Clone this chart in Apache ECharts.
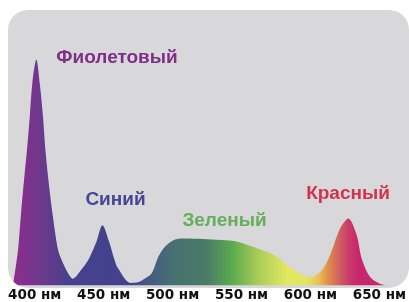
<!DOCTYPE html>
<html>
<head>
<meta charset="utf-8">
<script src="https://cdn.jsdelivr.net/npm/echarts@6/dist/echarts.min.js"></script>
<style>
html,body{margin:0;padding:0;background:#fff;}
#c{width:409px;height:302px;}
</style>
</head>
<body>
<div id="c"></div>
<script>
// Wavelength (nm) and relative intensity (violet peak = 100)
const wavelengths = [384.2, 386.4, 388.0, 389.9, 392.1, 394.4, 396.4, 398.3, 401.2, 403.6, 406.0, 407.7, 410.1, 413.1, 416.7, 419.0, 424.1, 427.5, 434.7, 439.5, 444.8, 449.1, 453.9, 457.5, 460.3, 469.5, 475.4, 480.5, 485.0, 489.8, 494.6, 501.8, 509.0, 522.1, 535.1, 547.3, 554.5, 561.7, 573.6, 588.0, 599.9, 608.3, 614.3, 621.5, 627.5, 633.5, 637.1, 643.0, 649.3, 655.0];
const intensity = [0, 9.0, 16.4, 30.9, 45.8, 60.3, 74.8, 89.7, 100, 89.7, 74.8, 60.3, 45.8, 30.9, 16.4, 12.1, 5.5, 3.0, 7.7, 12.1, 19.5, 26.7, 19.5, 12.1, 7.7, 1.1, 1.5, 3.3, 5.5, 12.9, 17.3, 20.4, 20.8, 20.6, 20.1, 19.4, 17.9, 16.4, 13.5, 6.9, 3.7, 6.8, 13.5, 25.2, 29.6, 22.3, 12.1, 4.0, 1.1, 0];
const tickValues = [400, 450, 500, 550, 600, 650];
const tickUnit = 'нм';
const bandNames = ['Фиолетовый', 'Синий', 'Зеленый', 'Красный'];

const data = wavelengths.map((w, i) => [w, intensity[i]]);
const chart = echarts.init(document.getElementById('c'), null, {renderer: 'canvas'});

const labelFont = '"Liberation Sans", Arial, sans-serif';
const bandStyles = [
  {x: 117, y: 57.5, color: '#7e2f88'},
  {x: 115.5, y: 200, color: '#454594'},
  {x: 224.5, y: 221, color: '#66ad5c'},
  {x: 348, y: 194, color: '#d1334f'}
];

// white masks for the rounded bottom corners of the panel
function cornerMask(cx, cy, r, a0, a1, corner) {
  const pts = [corner];
  for (let k = 0; k <= 12; k++) {
    const a = a0 + (a1 - a0) * k / 12;
    pts.push([cx + r * Math.cos(a), cy + r * Math.sin(a)]);
  }
  return pts;
}

chart.setOption({
  animation: false,
  backgroundColor: '#ffffff',
  grid: {left: 7.16, right: 12.08, top: 59.5, bottom: 14.5, containLabel: false},
  xAxis: {
    type: 'value', min: 380, max: 660,
    axisLine: {show: false}, axisTick: {show: false}, splitLine: {show: false},
    axisLabel: {
      customValues: tickValues,
      formatter: v => v + ' ' + tickUnit,
      color: '#111', fontWeight: 'bold', fontSize: 13.5,
      fontFamily: '"DejaVu Sans", sans-serif', margin: 2.5
    }
  },
  yAxis: {type: 'value', min: 0, max: 100, show: false},
  graphic: [
    {type: 'rect', z: -10, silent: true,
     shape: {x: 8, y: 10, width: 401, height: 278, r: 20},
     style: {fill: '#d8d8da'}},
    {type: 'polygon', z: 100, silent: true,
     shape: {points: cornerMask(28, 268, 20, Math.PI, Math.PI / 2, [7, 289])},
     style: {fill: '#ffffff'}},
    {type: 'polygon', z: 100, silent: true,
     shape: {points: cornerMask(389, 268, 20, Math.PI / 2, 0, [410, 289])},
     style: {fill: '#ffffff'}}
  ].concat(bandNames.map((t, i) => ({
    type: 'text', z: 50, silent: true,
    style: {text: t, x: bandStyles[i].x, y: bandStyles[i].y, fill: bandStyles[i].color,
      font: 'bold 19px ' + labelFont, textAlign: 'center', textVerticalAlign: 'middle'}
  }))),
  series: [{
    type: 'line', data: data, smooth: 0.3, symbol: 'none',
    lineStyle: {width: 0},
    areaStyle: {
      opacity: 1,
      color: {type: 'linear', x: 0, y: 0, x2: 1, y2: 0, colorStops: [
        {offset: 0, color: '#8e2c8e'},
        {offset: 0.072, color: '#6e388c'},
        {offset: 0.151, color: '#48408c'},
        {offset: 0.31, color: '#42428c'},
        {offset: 0.363, color: '#445a82'},
        {offset: 0.43, color: '#467070'},
        {offset: 0.52, color: '#4a7c68'},
        {offset: 0.586, color: '#5aaa4e'},
        {offset: 0.655, color: '#a8cc58'},
        {offset: 0.735, color: '#e2e862'},
        {offset: 0.788, color: '#e4e462'},
        {offset: 0.82, color: '#e8c058'},
        {offset: 0.846, color: '#e08a48'},
        {offset: 0.875, color: '#d06060'},
        {offset: 0.9, color: '#c83a6a'},
        {offset: 0.925, color: '#c8266c'},
        {offset: 1, color: '#c4286c'}
      ]}
    }
  }]
});
</script>
</body>
</html>
